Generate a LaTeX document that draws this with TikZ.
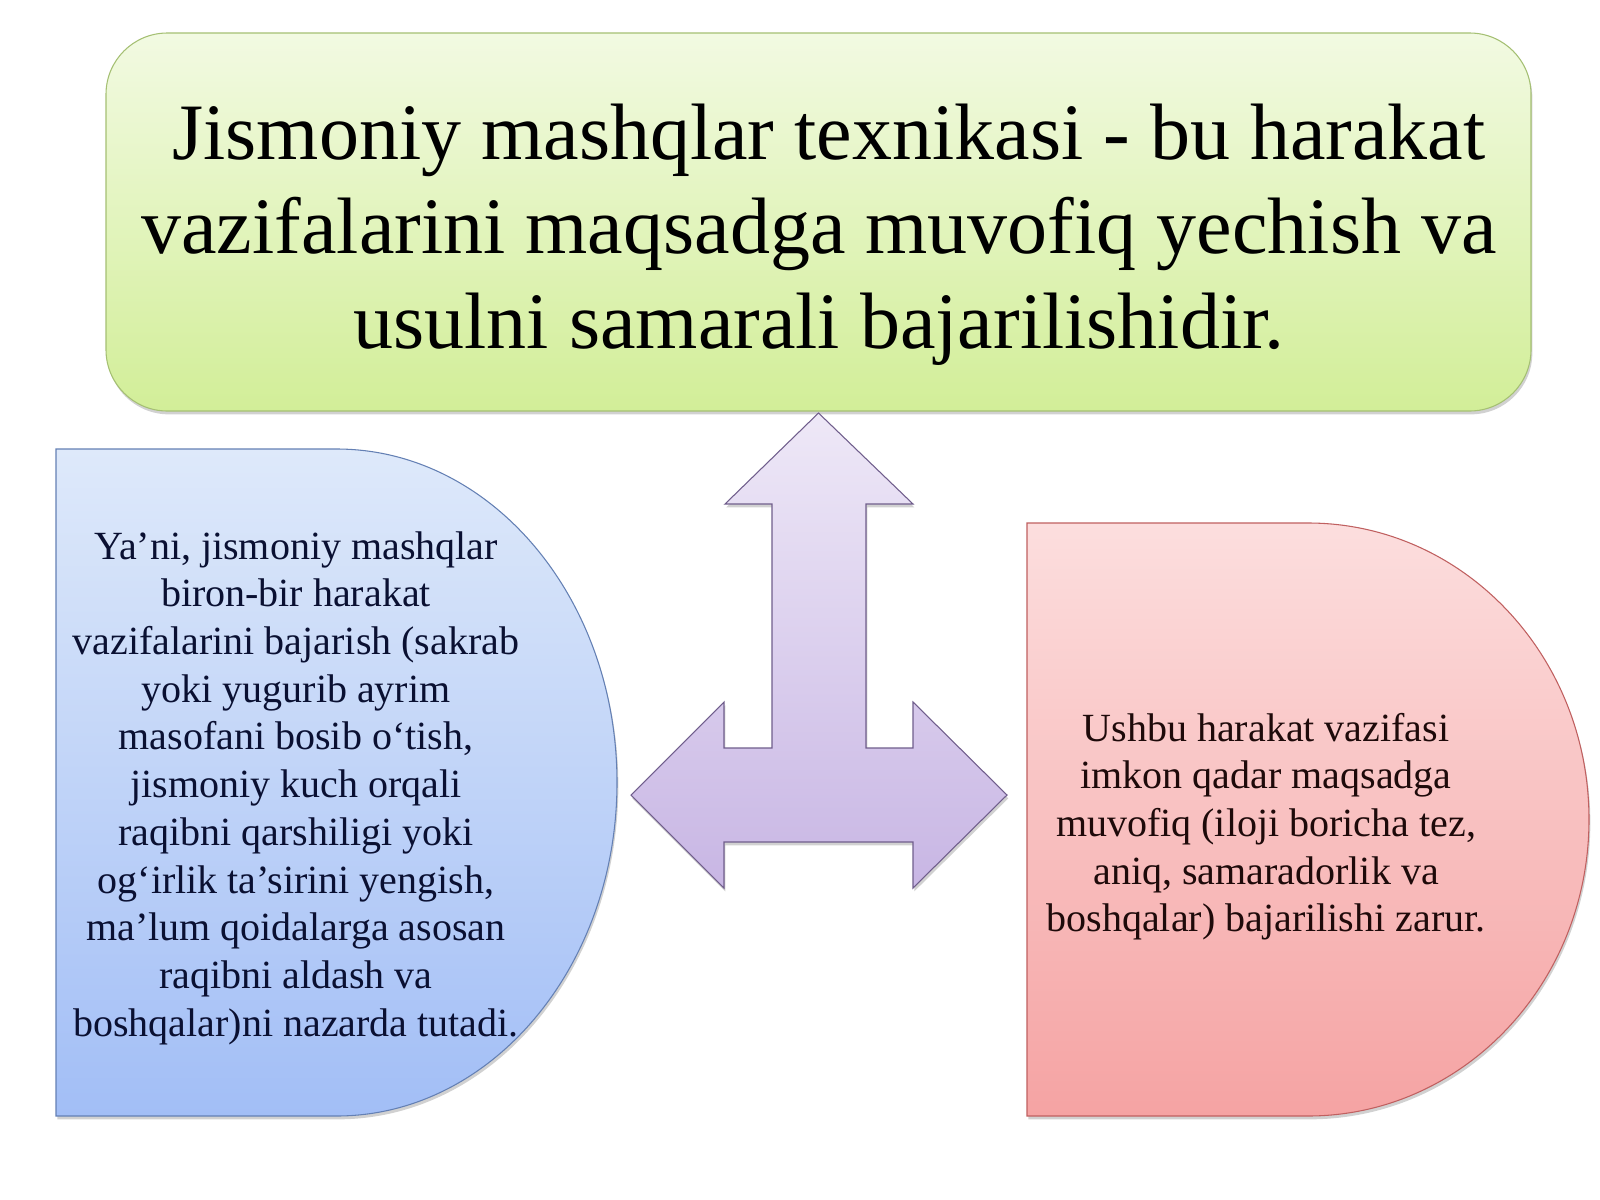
\documentclass[tikz,border=0pt]{standalone}
\usepackage{fontspec}
\setmainfont{Liberation Serif}
\usetikzlibrary{shadows}
\newcommand{\mklines}[1]{\vtop{\lineskiplimit=-\maxdimen\halign{\hfil##\hfil\cr#1\crcr}}}
\definecolor{greentop}{RGB}{242,250,226}
\definecolor{greenbot}{RGB}{210,238,152}
\definecolor{greenedge}{RGB}{165,192,115}
\definecolor{bluetop}{RGB}{222,233,250}
\definecolor{bluebot}{RGB}{162,190,246}
\definecolor{blueedge}{RGB}{100,128,180}
\definecolor{redtop}{RGB}{252,222,222}
\definecolor{redbot}{RGB}{245,163,163}
\definecolor{rededge}{RGB}{192,96,96}
\definecolor{purtop}{RGB}{238,232,247}
\definecolor{purbot}{RGB}{200,182,228}
\definecolor{puredge}{RGB}{112,94,140}
\definecolor{navytext}{RGB}{10,16,50}
\definecolor{redtext}{RGB}{30,10,10}
\tikzset{
  softshadow/.style={drop shadow={opacity=0.18, shadow xshift=1pt, shadow yshift=-2.5pt, fill=black}},
  panel/.style={softshadow, line width=0.8pt},
  txt/.style={anchor=base, inner sep=0pt, outer sep=0pt}
}
\begin{document}
\begin{tikzpicture}[x=0.75pt,y=-0.75pt]
\useasboundingbox (0,0) rectangle (1600,1200);
\fill[white] (0,0) rectangle (1600,1200);
% top green rounded box
\path[panel, draw=greenedge, top color=greentop, bottom color=greenbot, rounded corners=46pt]
  (106,33) rectangle (1531,411);
% purple left-right-up arrow
\path[panel, draw=puredge, top color=purtop, bottom color=purbot, line join=miter]
  (818.5,413) -- (913,504) -- (866,504) -- (866,748) -- (913,748) -- (913,702)
  -- (1007,795) -- (913,888) -- (913,842) -- (724,842) -- (724,888) -- (631,795)
  -- (724,702) -- (724,748) -- (772,748) -- (772,504) -- (725,504) -- cycle;
% blue delay shape
\path[panel, draw=blueedge, top color=bluetop, bottom color=bluebot]
  (56,449) -- (336.5,449) .. controls (491.4,449) and (617,598.3) .. (617,782.5)
  .. controls (617,966.7) and (491.4,1116) .. (336.5,1116) -- (56,1116) -- cycle;
% red delay shape
\path[panel, draw=rededge, top color=redtop, bottom color=redbot]
  (1027,523) -- (1308,523) .. controls (1463.2,523) and (1589,655.7) .. (1589,819.5)
  .. controls (1589,983.3) and (1463.2,1116) .. (1308,1116) -- (1027,1116) -- cycle;
% texts
\node[txt, font=\fontsize{60pt}{71.2pt}\selectfont, text=black] (toptext) at (819,159)
  {\mklines{\hskip0.25em Jismoniy mashqlar texnikasi - bu harakat\cr
  vazifalarini maqsadga muvofiq yechish va\cr
  usulni samarali bajarilishidir.}};
\node[txt, font=\fontsize{30pt}{35.8pt}\selectfont, text=navytext] (lefttext) at (296,559)
  {\mklines{Ya’ni, jismoniy mashqlar\cr
  biron-bir harakat\cr
  vazifalarini bajarish (sakrab\cr
  yoki yugurib ayrim\cr
  masofani bosib o‘tish,\cr
  jismoniy kuch orqali\cr
  raqibni qarshiligi yoki\cr
  og‘irlik ta’sirini yengish,\cr
  ma’lum qoidalarga asosan\cr
  raqibni aldash va\cr
  boshqalar)ni nazarda tutadi.}};
\node[txt, font=\fontsize{30pt}{35.8pt}\selectfont, text=redtext] (righttext) at (1266,741)
  {\mklines{Ushbu harakat vazifasi\cr
  imkon qadar maqsadga\cr
  muvofiq (iloji boricha tez,\cr
  aniq, samaradorlik va\cr
  boshqalar) bajarilishi zarur.}};
\end{tikzpicture}
\end{document}
